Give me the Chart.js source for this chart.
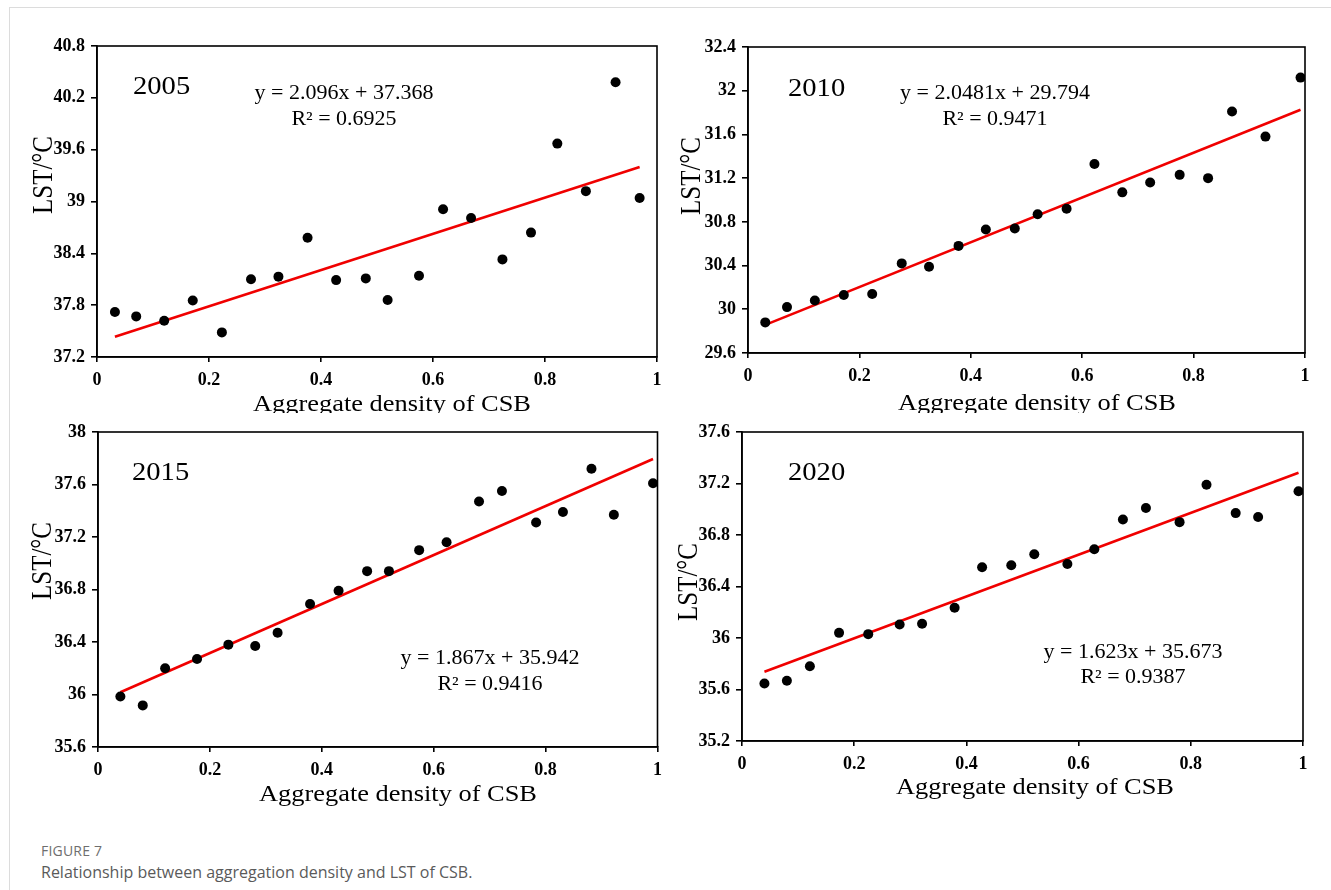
<!DOCTYPE html>
<html>
<head>
<meta charset="utf-8">
<script src="https://cdn.jsdelivr.net/npm/chart.js@4.4.0/dist/chart.umd.min.js"></script>
<style>
  body { margin: 0; background: #fff; }
  #page { position: relative; width: 1331px; height: 890px; overflow: hidden; background: #fff; }
  .frame-top { position: absolute; left: 9px; top: 7px; width: 1322px; height: 1px; background: #dcdcdc; }
  .frame-left { position: absolute; left: 9px; top: 7px; width: 1px; height: 883px; background: #dcdcdc; }
  canvas { position: absolute; }
  .fig { position: absolute; left: 41px; top: 841px; font-family: "Open Sans", sans-serif; font-size: 14px; color: #6e6e6e; letter-spacing: 0.2px; }
  .cap { position: absolute; left: 41px; top: 861px; font-family: "Open Sans", sans-serif; font-size: 16px; color: #5a5a5a; }
</style>
</head>
<body>
<div id="page">
  <div class="frame-top"></div>
  <div class="frame-left"></div>
  <canvas id="c0" width="670" height="413" style="left:0px;top:0px"></canvas>
  <canvas id="c1" width="671" height="413" style="left:660px;top:0px"></canvas>
  <canvas id="c2" width="670" height="420" style="left:0px;top:413px"></canvas>
  <canvas id="c3" width="671" height="420" style="left:660px;top:413px"></canvas>
  <div class="fig">FIGURE 7</div>
  <div class="cap">Relationship between aggregation density and LST of CSB.</div>
</div>
<script>
// data
const years = ['2005', '2010', '2015', '2020'];

const x2005 = [0.032, 0.070, 0.120, 0.171, 0.223, 0.275, 0.324, 0.376, 0.427, 0.480, 0.519, 0.575, 0.618, 0.668, 0.724, 0.775, 0.822, 0.873, 0.926, 0.969];
const y2005 = [37.72, 37.67, 37.62, 37.855, 37.485, 38.10, 38.13, 38.58, 38.09, 38.11, 37.86, 38.14, 38.91, 38.81, 38.33, 38.64, 39.67, 39.12, 40.38, 39.04];

const x2010 = [0.031, 0.070, 0.120, 0.172, 0.223, 0.276, 0.325, 0.378, 0.427, 0.479, 0.520, 0.572, 0.622, 0.672, 0.722, 0.775, 0.826, 0.869, 0.929, 0.992];
const y2010 = [29.88, 30.02, 30.08, 30.13, 30.14, 30.42, 30.39, 30.58, 30.73, 30.74, 30.87, 30.92, 31.33, 31.07, 31.16, 31.23, 31.20, 31.81, 31.58, 32.12];

const x2015 = [0.040, 0.080, 0.120, 0.177, 0.233, 0.281, 0.321, 0.379, 0.430, 0.481, 0.520, 0.574, 0.623, 0.681, 0.722, 0.783, 0.831, 0.882, 0.922, 0.992];
const y2015 = [35.985, 35.917, 36.20, 36.27, 36.38, 36.37, 36.47, 36.69, 36.79, 36.94, 36.94, 37.10, 37.16, 37.47, 37.55, 37.31, 37.39, 37.72, 37.37, 37.61];

const x2020 = [0.040, 0.080, 0.121, 0.173, 0.225, 0.281, 0.321, 0.379, 0.428, 0.480, 0.521, 0.580, 0.628, 0.679, 0.720, 0.780, 0.828, 0.880, 0.920, 0.992];
const y2020 = [35.647, 35.668, 35.78, 36.04, 36.03, 36.105, 36.11, 36.235, 36.55, 36.565, 36.65, 36.575, 36.69, 36.92, 37.01, 36.90, 37.19, 36.97, 36.94, 37.14];

const slopes = [2.096, 2.0481, 1.867, 1.623];
const intercepts = [37.368, 29.794, 35.942, 35.673];
const r2 = ['0.6925', '0.9471', '0.9416', '0.9387'];

const xTicks = [0, 0.2, 0.4, 0.6, 0.8, 1];
const yTicks = [
    [37.2, 37.8, 38.4, 39, 39.6, 40.2, 40.8],
    [29.6, 30, 30.4, 30.8, 31.2, 31.6, 32, 32.4],
    [35.6, 36, 36.4, 36.8, 37.2, 37.6, 38],
    [35.2, 35.6, 36, 36.4, 36.8, 37.2, 37.6]
];

const xs = [x2005, x2010, x2015, x2020];
const ys = [y2005, y2010, y2015, y2020];

// layout for each panel (canvas coordinates)
const panels = [
    { pad: { left: 0, top: 46, right: 13, bottom: 0 }, yW: 97, xH: 56,
      year: [133, 94], eq: [344, 99], r2: [344, 125], yTitle: [44, 175], xTitle: [392, 411] },
    { pad: { left: 0, top: 47, right: 26, bottom: 0 }, yW: 88, xH: 60,
      year: [128, 96], eq: [335, 99], r2: [335, 125], yTitle: [32, 176], xTitle: [377, 410] },
    { pad: { left: 0, top: 19, right: 12, bottom: 0 }, yW: 98, xH: 86,
      year: [132, 67], eq: [490, 251], r2: [490, 277], yTitle: [43, 148], xTitle: [398, 388] },
    { pad: { left: 0, top: 19, right: 28, bottom: 0 }, yW: 82, xH: 92,
      year: [128, 67], eq: [473, 245], r2: [473, 270], yTitle: [29, 169], xTitle: [375, 381] }
];

const serif = '"Liberation Serif", "Times New Roman", serif';
const stretch = 1.1;

function textAt(ctx, str, x, y, size, align) {
    ctx.save();
    ctx.font = size + 'px ' + serif;
    ctx.fillStyle = '#000';
    ctx.textAlign = align;
    ctx.textBaseline = 'alphabetic';
    ctx.translate(x, y);
    ctx.scale(stretch, 1);
    ctx.fillText(str, 0, 0);
    ctx.restore();
}

const annotations = {
    id: 'annotations',
    afterDraw(chart, args, opts) {
        const { ctx, chartArea } = chart;
        const p = panels[opts.index];
        ctx.save();
        ctx.strokeStyle = '#000';
        ctx.lineWidth = 1.6;
        ctx.strokeRect(chartArea.left, chartArea.top, chartArea.right - chartArea.left, chartArea.bottom - chartArea.top);
        ctx.restore();

        textAt(ctx, years[opts.index], p.year[0], p.year[1], 26, 'left');
        textAt(ctx, 'y = ' + slopes[opts.index] + 'x + ' + intercepts[opts.index], p.eq[0], p.eq[1], 20, 'center');
        textAt(ctx, 'R\u00b2 = ' + r2[opts.index], p.r2[0], p.r2[1], 20, 'center');
        textAt(ctx, 'Aggregate density of CSB', p.xTitle[0], p.xTitle[1], 24, 'center');

        // rotated y title, glyphs a little wider on screen like the source
        ctx.save();
        ctx.font = '25px ' + serif;
        ctx.fillStyle = '#000';
        ctx.textAlign = 'center';
        ctx.textBaseline = 'middle';
        ctx.translate(p.yTitle[0], p.yTitle[1]);
        ctx.rotate(-Math.PI / 2);
        ctx.scale(1, 1.15);
        ctx.fillText('LST/\u00b0C', 0, 0);
        ctx.restore();
    }
};

years.forEach(function (yr, i) {
    const p = panels[i];
    const pts = xs[i].map((x, k) => ({ x: x, y: ys[i][k] }));
    const x0 = Math.min(...xs[i]);
    const x1 = Math.max(...xs[i]);
    const fit = [x0, x1].map(x => ({ x: x, y: slopes[i] * x + intercepts[i] }));

    new Chart(document.getElementById('c' + i), {
        type: 'scatter',
        plugins: [annotations],
        data: {
            datasets: [{
                data: pts,
                backgroundColor: '#000',
                borderWidth: 0,
                pointRadius: 5,
                order: 1
            }, {
                type: 'line',
                data: fit,
                borderColor: '#f00000',
                borderWidth: 2.6,
                pointRadius: 0,
                fill: false,
                order: 2
            }]
        },
        options: {
            responsive: false,
            animation: false,
            devicePixelRatio: 1,
            layout: { padding: p.pad },
            plugins: {
                legend: { display: false },
                tooltip: { enabled: false },
                annotations: { index: i }
            },
            scales: {
                x: {
                    type: 'linear',
                    min: 0,
                    max: 1,
                    afterBuildTicks: (scale) => { scale.ticks = xTicks.map(v => ({ value: v })); },
                    afterFit: (scale) => { scale.height = p.xH; },
                    border: { display: true, color: '#000', width: 1.6 },
                    grid: { display: true, drawOnChartArea: false, drawTicks: true, tickLength: 5, color: '#000', lineWidth: 1.6 },
                    ticks: {
                        padding: 8,
                        maxRotation: 0,
                        color: '#000',
                        font: { family: serif, size: 18, weight: 'bold' },
                        callback: (v) => String(v)
                    }
                },
                y: {
                    min: yTicks[i][0],
                    max: yTicks[i][yTicks[i].length - 1],
                    afterBuildTicks: (scale) => { scale.ticks = yTicks[i].map(v => ({ value: v })); },
                    afterFit: (scale) => { scale.width = p.yW; },
                    border: { display: true, color: '#000', width: 1.6 },
                    grid: { display: true, drawOnChartArea: false, drawTicks: true, tickLength: 6, color: '#000', lineWidth: 1.6 },
                    ticks: {
                        padding: 6,
                        color: '#000',
                        font: { family: serif, size: 18, weight: 'bold' },
                        callback: (v) => String(v)
                    }
                }
            }
        }
    });
});
</script>
</body>
</html>
